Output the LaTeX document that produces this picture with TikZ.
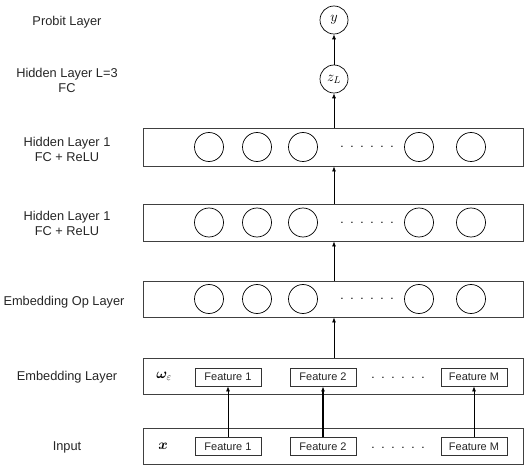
\documentclass[tikz,border=0pt]{standalone}
\usepackage{amsmath,bm}
\usepackage{fontspec}
\setmainfont{Liberation Sans}
\usetikzlibrary{arrows.meta}
\tikzset{
  layerbox/.style={draw=black!75, line width=0.9pt, minimum width=380pt, minimum height=36pt, inner sep=0pt},
  unit/.style={draw, circle, line width=0.7pt, minimum size=29pt, inner sep=0pt},
  outunit/.style={draw, circle, line width=0.7pt, minimum size=28pt, inner sep=0pt, font=\fontsize{14}{16}\selectfont},
  featbox/.style={draw=black!80, line width=0.8pt, minimum width=66pt, minimum height=18pt, inner sep=0pt, font=\fontsize{11}{12}\selectfont, text=black!85},
  lbl/.style={font=\fontsize{12.8}{15}\selectfont, align=center, text=black!85},
  dotsl/.style={font=\fontsize{12}{14}\selectfont},
  arr/.style={-{Latex[length=5pt,width=4pt]}, line width=0.7pt},
}
\newcommand{\mydots}{.\;\;.\;\;.\;\;.\;\;.\;\;.}
\begin{document}
\begin{tikzpicture}[x=1pt,y=-1pt]
\useasboundingbox (0,0) rectangle (528,468);
% layer boxes
\node[layerbox, minimum height=38pt] (b1) at (333,147) {};
\node[layerbox, minimum height=37pt] (b2) at (333,222.5) {};
\node[layerbox] (b3) at (333,299) {};
\node[layerbox] (b4) at (333,376) {};
\node[layerbox] (b5) at (333,446) {};
% circles
\foreach \r/\yy in {1/147, 2/222.5, 3/299} {
  \node[unit] (c\r a) at (209,\yy) {};
  \node[unit] (c\r b) at (257,\yy) {};
  \node[unit] (c\r c) at (303,\yy) {};
  \node[dotsl] (d\r) at (367,\yy) {\mydots};
  \node[unit] (c\r d) at (419,\yy) {};
  \node[unit] (c\r e) at (471,\yy) {};
}
% output units
\node[outunit] (zl) at (334,79) {$z_L$};
\node[outunit] (y) at (334,20) {$y$};
% feature boxes
\node[featbox] (e1) at (228,377) {Feature 1};
\node[featbox] (e2) at (323,377) {Feature 2};
\node[featbox] (em) at (474,377) {Feature M};
\node[dotsl] (ed) at (398,378) {\mydots};
\node[featbox] (i1) at (228,446.5) {Feature 1};
\node[featbox] (i2) at (323,446.5) {Feature 2};
\node[featbox] (im) at (474,446.5) {Feature M};
\node[dotsl] (id) at (398,448) {\mydots};
\node[font=\fontsize{14}{16}\selectfont] (we) at (164,376) {$\bm{\omega}_{\varepsilon}$};
\node[font=\fontsize{14}{16}\selectfont] (xx) at (163,446) {$\bm{x}$};
% left labels
\node[lbl] (l1) at (67,22) {Probit Layer};
\node[lbl] (l2) at (67,80) {Hidden Layer L=3\\FC};
\node[lbl] (l3) at (67,149) {Hidden Layer 1\\FC + ReLU};
\node[lbl] (l4) at (67,223) {Hidden Layer 1\\FC + ReLU};
\node[lbl] (l5) at (64,302) {Embedding Op Layer};
\node[lbl] (l6) at (67,377) {Embedding Layer};
\node[lbl] (l7) at (67,447) {Input};
% arrows
\draw[arr] (b4.north -| zl) -- (b3.south -| zl);
\draw[arr] (b3.north -| zl) -- (b2.south -| zl);
\draw[arr] (b2.north -| zl) -- (b1.south -| zl);
\draw[arr] (b1.north -| zl) -- (zl.south);
\draw[arr] (zl.north) -- (y.south);
\draw[arr] (i1.north -| e1) -- (e1.south);
\draw[arr, line width=1.1pt] (i2.north -| e2) -- (e2.south);
\draw[arr] (im.north -| em) -- (em.south);
\end{tikzpicture}
\end{document}
